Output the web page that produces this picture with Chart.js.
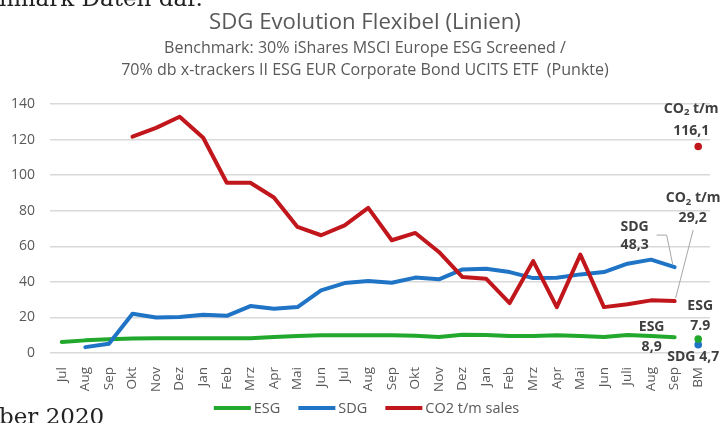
<!DOCTYPE html>
<html>
<head>
<meta charset="utf-8">
<script src="https://cdn.jsdelivr.net/npm/chart.js@4.4.1/dist/chart.umd.min.js"></script>
<style>
  html, body { margin: 0; padding: 0; background: #ffffff; }
  #wrap { width: 722px; height: 423px; position: relative; }
  canvas { display: block; }
</style>
</head>
<body>
<div id="wrap"><canvas id="c" width="722" height="423"></canvas></div>
<script>
// ---------------- DATA ----------------
const categories = ['Jul','Aug','Sep','Okt','Nov','Dez','Jan','Feb','Mrz','Apr','Mai','Jun',
                    'Jul','Aug','Sep','Okt','Nov','Dez','Jan','Feb','Mrz','Apr','Mai','Jun','Juli','Aug','Sep','BM'];

const esgValues = [6.2, 7.1, 7.7, 8.2, 8.3, 8.3, 8.3, 8.3, 8.3, 9.0, 9.6, 10.0,
                   10.0, 10.0, 10.0, 9.7, 9.0, 10.2, 10.1, 9.6, 9.5, 10.0, 9.6, 9.0, 10.1, 9.5, 8.9, null];

const sdgValues = [null, 3.3, 5.2, 22.1, 20.0, 20.3, 21.5, 20.9, 26.4, 24.9, 25.8, 35.2,
                   39.3, 40.5, 39.5, 42.4, 41.4, 47.0, 47.4, 45.5, 42.1, 42.3, 44.2, 45.5, 50.2, 52.5, 48.3, null];

const co2Values = [null, null, null, 121.6, 126.6, 132.8, 121.0, 95.7, 95.7, 87.4, 70.9, 66.2,
                   71.8, 81.6, 63.4, 67.5, 56.8, 42.7, 41.8, 28.1, 51.7, 25.8, 55.3, 25.8, 27.4, 29.6, 29.2, null];

const benchmarkEsg = 7.9;
const benchmarkSdg = 4.7;
const benchmarkCo2 = 116.1;

const yTickValues = [0, 20, 40, 60, 80, 100, 120, 140];

const seriesNames = ['ESG', 'SDG', 'CO2 t/m sales'];

const titleText = 'SDG Evolution Flexibel (Linien)';
const subtitleLines = ['Benchmark: 30% iShares MSCI Europe ESG Screened /',
                       '70% db x-trackers II ESG EUR Corporate Bond UCITS ETF  (Punkte)'];
const docTopText = 'hmark Daten dar.';
const docBottomText = 'ber 2020';

// ---------------- STYLE ----------------
const GREEN = '#22a82c';
const BLUE = '#1f74c6';
const RED = '#c0161c';
const GREY_TXT = '#595959';
const DARK_TXT = '#404040';
const FONT = "'Open Sans', 'DejaVu Sans', sans-serif";

const lastIdx = categories.length - 1;
const sepIdx = lastIdx - 1;
const bmOnly = v => categories.map((_, i) => i === lastIdx ? v : null);

function fitSize(ctx, text, weight, family, width) {
  ctx.font = weight + ' 100px ' + family;
  return 100 * width / ctx.measureText(text).width;
}

function fmt(v, sep) { return v.toFixed(1).replace('.', sep); }

function drawCO2(ctx, cx, cy, size) {
  const big = 'bold ' + size + 'px ' + FONT;
  const small = 'bold ' + (size * 0.68) + 'px ' + FONT;
  ctx.font = big; const w1 = ctx.measureText('CO').width; const w3 = ctx.measureText(' t/m').width;
  ctx.font = small; const w2 = ctx.measureText('2').width;
  let x = cx - (w1 + w2 + w3) / 2;
  ctx.textAlign = 'left'; ctx.textBaseline = 'middle';
  ctx.font = big; ctx.fillText('CO', x, cy); x += w1;
  ctx.font = small; ctx.fillText('2', x, cy + size * 0.3); x += w2;
  ctx.font = big; ctx.fillText(' t/m', x, cy);
}

const decorPlugin = {
  id: 'decor',
  afterDraw(chart) {
    const ctx = chart.ctx;
    const xs = chart.scales.x, ys = chart.scales.y;
    ctx.save();

    // surrounding document text (cut off)
    ctx.fillStyle = '#222222';
    ctx.textAlign = 'left'; ctx.textBaseline = 'alphabetic';
    ctx.font = '23px "DejaVu Serif", serif';
    ctx.fillText(docTopText, -1, 6);
    ctx.fillText(docBottomText, -1, 424);

    // titles
    const cx = 365;
    ctx.fillStyle = GREY_TXT; ctx.textAlign = 'center';
    let s = fitSize(ctx, titleText, 'normal', FONT, 312);
    ctx.font = s + 'px ' + FONT; ctx.fillText(titleText, cx, 28.5);
    s = fitSize(ctx, subtitleLines[1], 'normal', FONT, 488);
    ctx.font = s + 'px ' + FONT;
    ctx.fillText(subtitleLines[0], cx, 52.5);
    ctx.fillText(subtitleLines[1], cx, 75);

    // legend
    const colors = [GREEN, BLUE, RED];
    ctx.font = '14.5px ' + FONT;
    const lineW = 37, gapTxt = 3, gapItem = 18;
    const widths = seriesNames.map(n => lineW + gapTxt + ctx.measureText(n).width);
    const total = widths.reduce((a, b) => a + b, 0) + gapItem * (widths.length - 1);
    let lx = 366.5 - total / 2;
    const ly = 408;
    ctx.textAlign = 'left'; ctx.textBaseline = 'middle';
    seriesNames.forEach((n, i) => {
      ctx.strokeStyle = colors[i]; ctx.lineWidth = 4; ctx.lineCap = 'butt';
      ctx.beginPath(); ctx.moveTo(lx, ly); ctx.lineTo(lx + lineW, ly); ctx.stroke();
      ctx.fillStyle = GREY_TXT;
      ctx.fillText(n, lx + lineW + gapTxt, ly + 0.5);
      lx += widths[i] + gapItem;
    });

    // annotations
    const px = i => xs.getPixelForValue(i);
    const py = v => ys.getPixelForValue(v);
    ctx.fillStyle = DARK_TXT;
    const aSize = fitSize(ctx, 'SDG ' + fmt(benchmarkSdg, ','), 'bold', FONT, 52);
    const AF = 'bold ' + aSize + 'px ' + FONT;
    const txt = (t, x, y) => { ctx.font = AF; ctx.textAlign = 'center'; ctx.textBaseline = 'middle'; ctx.fillText(t, x, y); };
    ctx.strokeStyle = '#a6a6a6'; ctx.lineWidth = 1;

    // CO2 benchmark
    let p = { x: px(lastIdx), y: py(benchmarkCo2) };
    drawCO2(ctx, p.x - 7, p.y - 38, aSize);
    txt(fmt(benchmarkCo2, ','), p.x - 7, p.y - 16);

    // CO2 last value
    p = { x: px(sepIdx), y: py(co2Values[sepIdx]) };
    drawCO2(ctx, p.x + 18.5, p.y - 103, aSize);
    txt(fmt(co2Values[sepIdx], ','), p.x + 18, p.y - 83);
    ctx.beginPath(); ctx.moveTo(p.x + 18.5, p.y - 71); ctx.lineTo(p.x + 1, p.y - 3); ctx.stroke();

    // SDG last value
    p = { x: px(sepIdx), y: py(sdgValues[sepIdx]) };
    txt('SDG', p.x - 40, p.y - 40);
    txt(fmt(sdgValues[sepIdx], ','), p.x - 40, p.y - 22);
    ctx.beginPath(); ctx.moveTo(p.x - 18, p.y - 32); ctx.lineTo(p.x - 8, p.y - 32); ctx.lineTo(p.x - 2, p.y - 3); ctx.stroke();

    // ESG last value
    p = { x: px(sepIdx), y: py(esgValues[sepIdx]) };
    txt('ESG', p.x - 23, p.y - 10);
    txt(fmt(esgValues[sepIdx], ','), p.x - 23, p.y + 10);

    // ESG benchmark
    p = { x: px(lastIdx), y: py(benchmarkEsg) };
    txt('ESG', p.x + 2, p.y - 33);
    txt(fmt(benchmarkEsg, '.'), p.x + 2, p.y - 13);

    // SDG benchmark
    p = { x: px(lastIdx), y: py(benchmarkSdg) };
    txt('SDG ' + fmt(benchmarkSdg, ','), p.x - 5, p.y + 12);

    ctx.restore();
  }
};

const lineDs = (label, data, color, order) => ({
  label, data, borderColor: color, backgroundColor: color, borderWidth: 4,
  pointRadius: 0, pointHoverRadius: 0, tension: 0, spanGaps: false, order,
  borderCapStyle: 'round', borderJoinStyle: 'round'
});
const dotDs = (label, v, color) => ({
  label, data: bmOnly(v), showLine: false, pointRadius: 3.8, pointBorderWidth: 0,
  backgroundColor: color, borderColor: color, order: -1
});

new Chart(document.getElementById('c'), {
  type: 'line',
  data: {
    labels: categories,
    datasets: [
      lineDs(seriesNames[0], esgValues, GREEN, 2),
      lineDs(seriesNames[1], sdgValues, BLUE, 1),
      lineDs(seriesNames[2], co2Values, RED, 0),
      dotDs('BM ESG', benchmarkEsg, GREEN),
      dotDs('BM SDG', benchmarkSdg, BLUE),
      dotDs('BM CO2', benchmarkCo2, RED)
    ]
  },
  options: {
    responsive: false,
    animation: false,
    devicePixelRatio: 1,
    layout: { padding: { top: 104, right: 12, left: 0, bottom: 0 } },
    plugins: { legend: { display: false }, title: { display: false }, tooltip: { enabled: false } },
    scales: {
      x: {
        type: 'category',
        offset: true,
        grid: { display: false },
        border: { display: false },
        ticks: { autoSkip: false, minRotation: 90, maxRotation: 90, color: GREY_TXT,
                 font: { family: FONT, size: 13.5 }, padding: 6 },
        afterFit: s => { s.height = 70; }
      },
      y: {
        min: yTickValues[0], max: yTickValues[yTickValues.length - 1],
        afterBuildTicks: s => { s.ticks = yTickValues.map(v => ({ value: v })); },
        grid: { color: '#d9d9d9', lineWidth: 1.5, drawTicks: false },
        border: { display: false },
        ticks: { color: GREY_TXT, font: { family: FONT, size: 14 }, padding: 15 },
        afterFit: s => { s.width = 50; }
      }
    }
  },
  plugins: [decorPlugin]
});
</script>
</body>
</html>
